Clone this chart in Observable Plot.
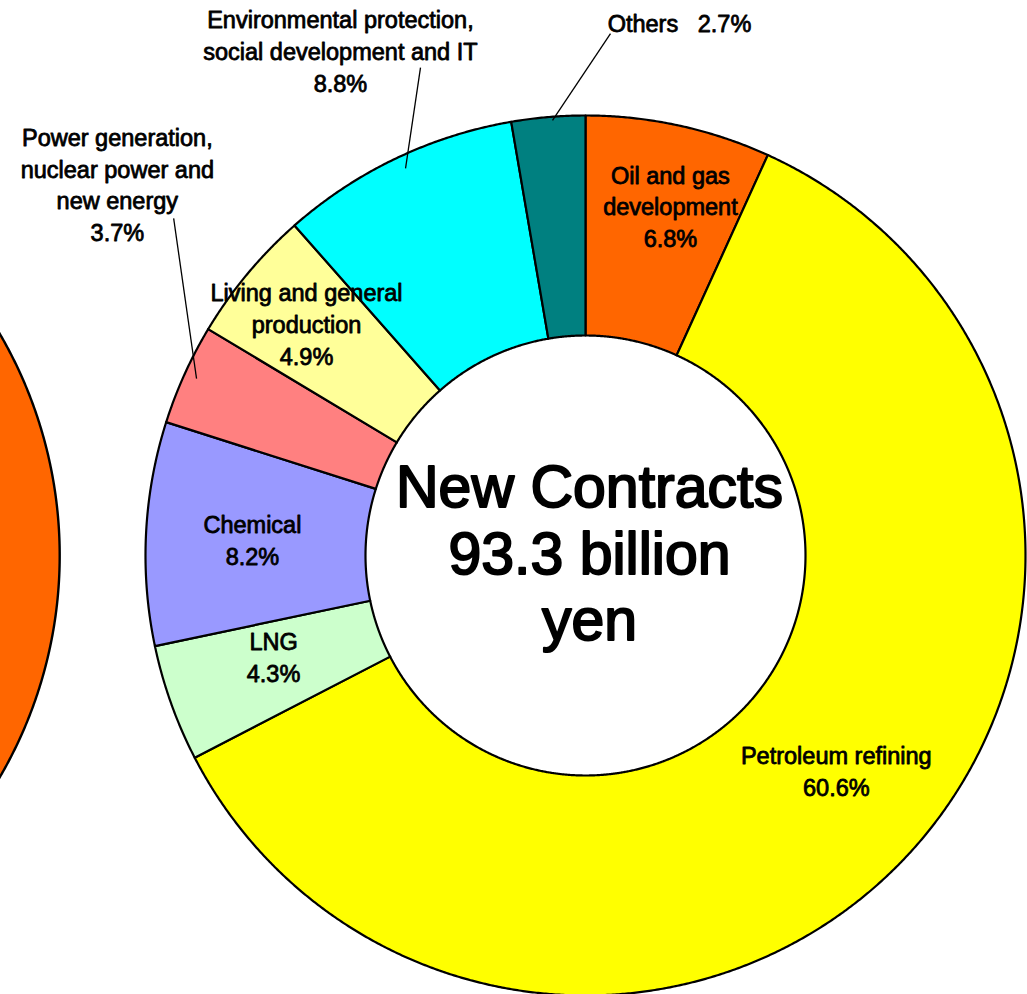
<!DOCTYPE html>
<html><head><meta charset="utf-8">
<script src="https://cdn.jsdelivr.net/npm/d3@7"></script>
<script src="https://cdn.jsdelivr.net/npm/@observablehq/plot@0.6"></script>
<style>html,body{margin:0;padding:0;background:#fff;overflow:hidden}</style>
</head><body><div id="chart"></div>
<script>
// ---- data ----
const categories = [
  "Oil and gas development",
  "Petroleum refining",
  "LNG",
  "Chemical",
  "Power generation, nuclear power and new energy",
  "Living and general production",
  "Environmental protection, social development and IT",
  "Others"
];
const shares = [6.8, 60.6, 4.3, 8.2, 3.7, 4.9, 8.8, 2.7];
const colors = ["#FF6600", "#FFFF00", "#CCFFCC", "#9999FF", "#FF8080", "#FFFF99", "#00FFFF", "#008080"];
const labelNames = [
  "Oil and gas\ndevelopment",
  "Petroleum refining",
  "LNG",
  "Chemical",
  "Power generation,\nnuclear power and\nnew energy",
  "Living and general\nproduction",
  "Environmental protection,\nsocial development and IT",
  "Others"
];
const centreTitle = "New Contracts";
const totalValue = 93.3;
const totalUnit = "billion";
const totalCurrency = "yen";
const neighbourColor = "#FF6600"; // visible slice of the neighbouring chart

// ---- layout (chart units: donut centre = 0,0, outer radius = 1) ----
const W = 1027, H = 994, unitPx = 440, cxPx = 585, cyPx = 555;
const innerR = 0.5;
const labelXY = [[0.193,0.796],[0.570,-0.488],[-0.709,-0.227],[-0.757,0.037],[-1.064,0.846],[-0.634,0.528],[-0.557,1.149],[0.2136,1.214]];
const leaderXY = {4: [[-0.936,0.766],[-0.884,0.402]], 6: [[-0.375,1.109],[-0.409,0.880]], 7: [[0.0568,1.186],[-0.075,0.989]]};
const neighbour = {cx: -2.195, cy: 0, a0: 20, a1: 160};

function ring(a0, a1, r0, r1, cx = 0, cy = 0) {
  const pts = [];
  const n = Math.max(2, Math.ceil((a1 - a0) / 0.25));
  for (let k = 0; k <= n; k++) { const a = (a0 + (a1 - a0) * k / n) * Math.PI / 180; pts.push([cx + r1 * Math.sin(a), cy + r1 * Math.cos(a)]); }
  for (let k = n; k >= 0; k--) { const a = (a0 + (a1 - a0) * k / n) * Math.PI / 180; pts.push([cx + r0 * Math.sin(a), cy + r0 * Math.cos(a)]); }
  pts.push(pts[0]);
  return pts;
}

const total = d3.sum(shares);
const ends = d3.cumsum(shares).map(v => v / total * 360);
const slicePts = categories.flatMap((c, i) =>
  ring(i ? ends[i - 1] : 0, ends[i], innerR, 1).map(([x, y]) => ({cat: c, x, y})));
const neighbourPts = ring(neighbour.a0, neighbour.a1, innerR, 1, neighbour.cx, neighbour.cy).map(([x, y]) => ({x, y}));

const labels = categories.map((c, i) => ({
  cat: c,
  text: c === "Others" ? `${labelNames[i]}   ${shares[i].toFixed(1)}%` : `${labelNames[i]}\n${shares[i].toFixed(1)}%`,
  x: labelXY[i][0], y: labelXY[i][1]
}));
const leaders = Object.entries(leaderXY).map(([i, [a, b]]) => ({cat: categories[i], x1: a[0], y1: a[1], x2: b[0], y2: b[1]}));

const plot = Plot.plot({
  width: W, height: H, margin: 0,
  x: {domain: [-cxPx / unitPx, (W - cxPx) / unitPx], axis: null},
  y: {domain: [(cyPx - H) / unitPx, cyPx / unitPx], axis: null},
  color: {type: "ordinal", domain: categories, range: colors},
  style: {fontFamily: "'Liberation Sans', Arial, sans-serif", background: "white", color: "black"},
  marks: [
    Plot.line(neighbourPts, {x: "x", y: "y", fill: neighbourColor, stroke: "black", strokeWidth: 2.4, clip: true}),
    Plot.line(slicePts, {x: "x", y: "y", z: "cat", fill: "cat", stroke: "black", strokeWidth: 2.2, strokeLinejoin: "round"}),
    Plot.link(leaders, {x1: "x1", y1: "y1", x2: "x2", y2: "y2", stroke: "black", strokeWidth: 1.3}),
    Plot.text(labels, {x: "x", y: "y", text: "text", fontSize: 23.5, lineHeight: 1.36, lineAnchor: "middle", textAnchor: "middle", fill: "black", stroke: "black", strokeWidth: 0.8}),
    Plot.text([`${centreTitle}\n${totalValue} ${totalUnit}\n${totalCurrency}`], {x: 0.009, y: 0.007, text: d => d, fontSize: 59, lineHeight: 1.13, lineAnchor: "middle", textAnchor: "middle", fill: "black", stroke: "black", strokeWidth: 2, strokeLinejoin: "round"})
  ]
});
document.getElementById("chart").appendChild(plot);
</script>
</body></html>
